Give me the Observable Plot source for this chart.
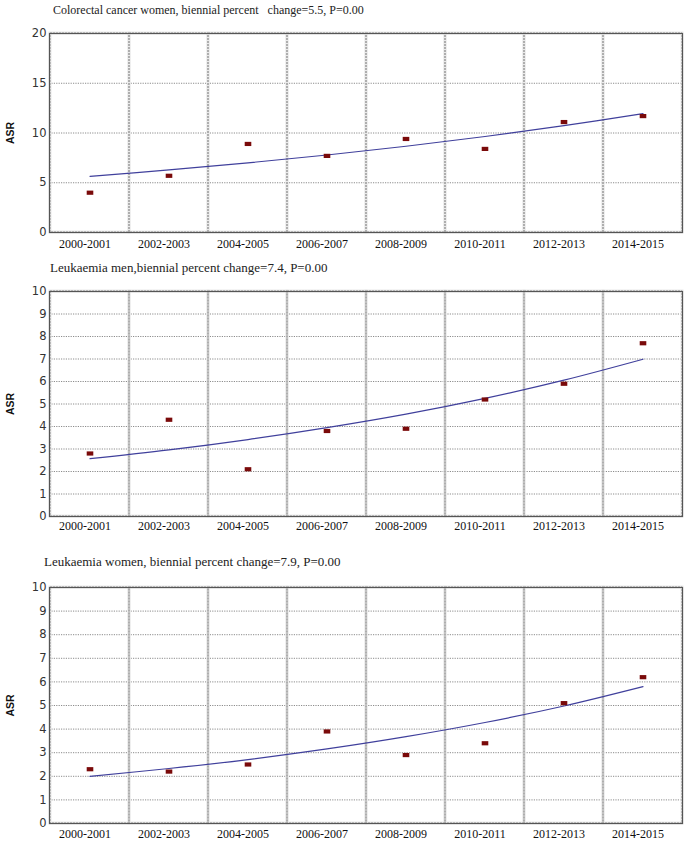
<!DOCTYPE html>
<html>
<head>
<meta charset="utf-8">
<script src="https://cdn.jsdelivr.net/npm/d3@7"></script>
<script src="https://cdn.jsdelivr.net/npm/@observablehq/plot@0.6"></script>
<style>
  html, body { margin: 0; padding: 0; background: #fff; }
  #root { position: relative; width: 685px; height: 860px; overflow: hidden; }
  .panel { position: absolute; left: 0; }
  .title { position: absolute; font-family: "Liberation Serif", "DejaVu Serif", serif; font-size: 13px;
           line-height: 14px; color: #222; white-space: pre; }
  svg [aria-label="y-axis label"] text, svg [aria-label="y-axis label"] { font-family: "Liberation Sans", Arial, sans-serif; font-weight: bold; font-size: 10.5px; fill: #111; }
</style>
</head>
<body>
<div id="root"></div>
<script>
// ---------- data ----------
const periods = ["2000-2001", "2002-2003", "2004-2005", "2006-2007", "2008-2009", "2010-2011", "2012-2013", "2014-2015"];

const colorectalWomenTitle = "Colorectal cancer women, biennial percent   change=5.5, P=0.00";
const colorectalWomen      = [4.0, 5.7, 8.9, 7.7, 9.4, 8.4, 11.1, 11.7];
const colorectalWomenTrend = [5.65, 6.29, 7.00, 7.79, 8.67, 9.65, 10.74, 11.95];

const leukMenTitle = "Leukaemia men,biennial percent change=7.4, P=0.00";
const leukMen      = [2.8, 4.3, 2.1, 3.8, 3.9, 5.2, 5.9, 7.7];
const leukMenTrend = [2.57, 2.96, 3.42, 3.95, 4.55, 5.25, 6.06, 6.99];

const leukWomenTitle = "Leukaemia women, biennial percent change=7.9, P=0.00";
const leukWomen      = [2.3, 2.2, 2.5, 3.9, 2.9, 3.4, 5.1, 6.2];
const leukWomenTrend = [2.0, 2.33, 2.71, 3.16, 3.68, 4.28, 4.98, 5.80];

const yTicks20 = [0, 5, 10, 15, 20];
const yTicks10 = [0, 1, 2, 3, 4, 5, 6, 7, 8, 9, 10];
const yLabel = "ASR";

// ---------- drawing ----------
const rectSymbol = { draw(ctx) { ctx.rect(-3.3, -2.1, 6.6, 4.2); } };

function panel({title, values, trend, ticks, top, frameH, titleTop, titleLeft, titleSize, labelPad}) {
  const root = document.getElementById("root");
  const t = document.createElement("div");
  t.className = "title";
  t.style.top = titleTop + "px";
  t.style.left = titleLeft + "px";
  t.style.fontSize = titleSize + "px";
  t.textContent = title;
  root.appendChild(t);

  const pts = periods.map((p, i) => ({period: p, value: values[i], trend: trend[i]}));
  const yMax = ticks[ticks.length - 1];
  const mt = 6, mb = 24;
  const chart = Plot.plot({
    width: 685,
    height: mt + frameH + mb,
    marginTop: mt,
    marginBottom: mb,
    marginLeft: 49,
    marginRight: 3,
    style: {background: "#fff", overflow: "visible"},
    x: {type: "band", domain: periods, padding: 0},
    y: {domain: [0, yMax]},
    marks: [
      Plot.gridY(ticks, {stroke: "#8c8c8c", strokeOpacity: 1, strokeDasharray: "1.2,1.2"}),
      Plot.barY(periods, {x: d => d, y1: 0, y2: yMax, fill: "none", stroke: "#eaeaea", strokeWidth: 3}),
      Plot.barY(periods, {x: d => d, y1: 0, y2: yMax, fill: "none", stroke: "#9a9a9a", strokeWidth: 1, strokeDasharray: "2,1"}),
      Plot.frame({stroke: "#555", strokeWidth: 1.2}),
      Plot.axisY(ticks, {tickSize: 0, tickPadding: 3, fontFamily: "DejaVu Sans, sans-serif", fontSize: 11.5, fill: "#333",
                         label: yLabel, labelAnchor: "center", labelArrow: "none", labelOffset: 43}),
      Plot.axisX({tickSize: 0, tickPadding: labelPad, dx: -5, fontFamily: "Liberation Serif, serif", fontSize: 12,
                  fill: "#111", label: null}),
      Plot.line(pts, {x: "period", y: "trend", stroke: "#40409c", strokeWidth: 1.2, curve: "catmull-rom"}),
      Plot.dot(pts, {x: "period", y: "value", symbol: rectSymbol, fill: "#7a0a0a", stroke: "none"})
    ]
  });
  const wrap = document.createElement("div");
  wrap.className = "panel";
  wrap.style.top = (top - mt) + "px";
  wrap.appendChild(chart);
  root.appendChild(wrap);
}

panel({title: colorectalWomenTitle, values: colorectalWomen, trend: colorectalWomenTrend, ticks: yTicks20,
       top: 33, frameH: 199, titleTop: 3, titleLeft: 53, titleSize: 12, labelPad: 7});
panel({title: leukMenTitle, values: leukMen, trend: leukMenTrend, ticks: yTicks10,
       top: 291, frameH: 225, titleTop: 261, titleLeft: 50, titleSize: 13, labelPad: 5});
panel({title: leukWomenTitle, values: leukWomen, trend: leukWomenTrend, ticks: yTicks10,
       top: 587, frameH: 236, titleTop: 555, titleLeft: 44, titleSize: 13, labelPad: 6});
</script>
</body>
</html>
